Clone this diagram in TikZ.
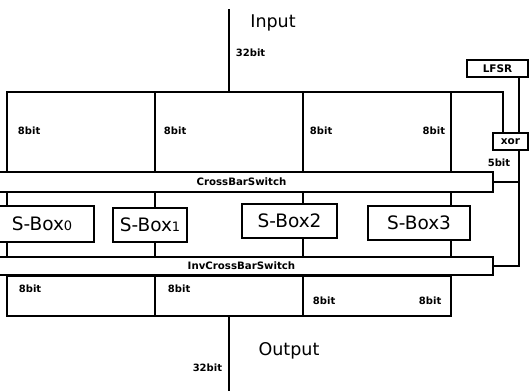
\documentclass[tikz,border=0pt]{standalone}
\usepackage{fontspec}
\setmainfont{DejaVu Sans}
\usetikzlibrary{calc}
\begin{document}
\begin{tikzpicture}[x=1pt,y=-1pt,line width=1.9pt,
  bar/.style={draw,fill=white,inner sep=0pt,font=\fontsize{10.2}{11}\bfseries\selectfont},
  sbox/.style={draw,fill=white,inner sep=0pt,font=\fontsize{18.5}{19}\selectfont},
  tag/.style={inner sep=0pt,font=\fontsize{10}{11}\bfseries\selectfont},
  big/.style={inner sep=0pt,font=\fontsize{17.5}{18}\selectfont},
  smallbox/.style={draw,fill=white,inner sep=0pt,font=\fontsize{10.5}{11}\bfseries\selectfont}]
\useasboundingbox (0,0) rectangle (529,391);

% column positions (top of the 8-bit split)
\coordinate (t0) at (7,92);
\coordinate (t1) at (155,92);
\coordinate (t2) at (303,92);
\coordinate (t3) at (451,92);
\coordinate (t4) at (503,92);
\coordinate (r)  at (519,92);
\coordinate (in) at (229,9);
\coordinate (out) at (229,391);
\coordinate (ob) at (451,316);

% switches
\node[bar,minimum width=503pt,minimum height=20pt] (cb) at (241.5,182) {CrossBarSwitch};
\node[bar,minimum width=503pt,minimum height=18pt] (icb) at (241.5,266) {InvCrossBarSwitch};

% S-boxes
\node[sbox,minimum width=104pt,minimum height=36pt] (s0) at (42,224) {S-Box{\fontsize{13}{13}\selectfont 0}};
\node[sbox,minimum width=74pt,minimum height=34pt] (s1) at (150,225) {S-Box{\fontsize{13}{13}\selectfont 1}};
\node[sbox,minimum width=95pt,minimum height=34pt] (s2) at (289.5,221) {S-Box2};
\node[sbox,minimum width=102pt,minimum height=34pt] (s3) at (419,223) {S-Box3};

% key path
\node[smallbox,minimum width=61pt,minimum height=17pt] (lfsr) at (497.5,68.5) {LFSR};
\node[smallbox,minimum width=35pt,minimum height=17pt] (xor) at (510.5,141.5) {xor};

% input and 8-bit split
\draw (in) -- (in |- t0);
\draw (xor.north -| t4) -- (t4) -- (t0) -- (cb.north -| t0);
\draw (t1) -- (cb.north -| t1);
\draw (t2) -- (cb.north -| t2);
\draw (t3) -- (cb.north -| t3);

% crossbar to S-boxes to inverse crossbar
\draw (cb.south -| t0) -- (s0.north -| t0);
\draw (cb.south -| t1) -- (s1.north -| t1);
\draw (cb.south -| t2) -- (s2.north -| t2);
\draw (cb.south -| t3) -- (s3.north -| t3);
\draw (s0.south -| t0) -- (icb.north -| t0);
\draw (s1.south -| t1) -- (icb.north -| t1);
\draw (s2.south -| t2) -- (icb.north -| t2);
\draw (s3.south -| t3) -- (icb.north -| t3);

% output merge
\draw (icb.south -| t0) rectangle (ob);
\draw (icb.south -| t1) -- (ob -| t1);
\draw (icb.south -| t2) -- (ob -| t2);
\draw (out |- ob) -- (out);

% key schedule lines
\draw (lfsr.south -| r) -- (xor.north -| r);
\draw (xor.south -| r) -- (r |- icb.east) -- (icb.east);
\draw (cb.east) -- (cb.east -| r);

% labels
\node[big] at (273,23) {Input};
\node[tag,anchor=west] at (235,53) {32bit};
\node[big] at (289,351) {Output};
\node[tag,anchor=east] at (223,368) {32bit};
\node[tag] at (499,163) {5bit};

\node[tag,anchor=west] at (17,131) {8bit};
\node[tag,anchor=west] at (163,131) {8bit};
\node[tag,anchor=west] at (309,131) {8bit};
\node[tag,anchor=east] at (446,131) {8bit};

\node[tag,anchor=west] at (18,289) {8bit};
\node[tag,anchor=west] at (167,289) {8bit};
\node[tag,anchor=west] at (312,301) {8bit};
\node[tag,anchor=west] at (418,301) {8bit};
\end{tikzpicture}
\end{document}
